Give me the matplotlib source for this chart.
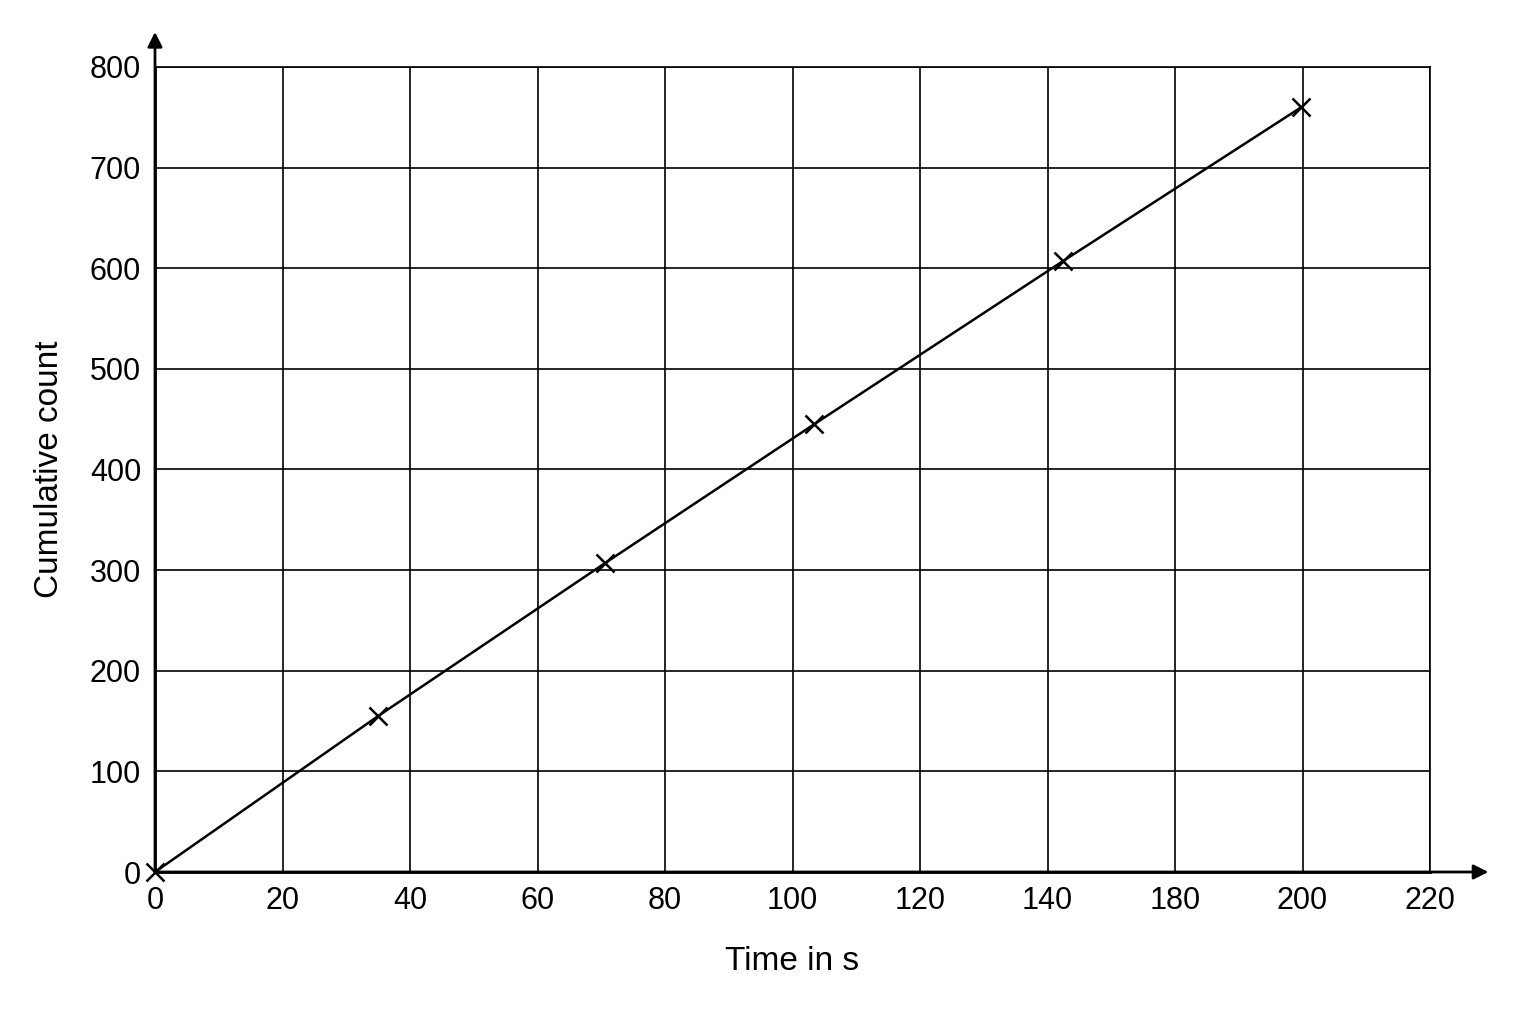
import matplotlib
matplotlib.use("Agg")
import matplotlib.pyplot as plt
import numpy as np

plt.rcParams['font.family'] = ['Liberation Sans Narrow', 'Liberation Sans', 'DejaVu Sans']

# data (x in grid position units; tick labels as printed on the original)
time_s = [0, 35, 70.6, 103.4, 142.4, 179.8]
counts = [0, 155, 307, 445, 607, 760]
x_tick_pos = [0, 20, 40, 60, 80, 100, 120, 140, 160, 180, 200]
x_tick_labels = ['0', '20', '40', '60', '80', '100', '120', '140', '180', '200', '220']
y_ticks = [0, 100, 200, 300, 400, 500, 600, 700, 800]

fig = plt.figure(figsize=(15.36, 10.24), dpi=100)
ax = fig.add_axes([155/1536, 1-872/1024, (1430-155)/1536, (872-67)/1024])
ax.set_xlim(0, 200)
ax.set_ylim(0, 800)
ax.set_xticks(x_tick_pos)
ax.set_xticklabels(x_tick_labels)
ax.set_yticks(y_ticks)
ax.grid(True, color='black', linewidth=1.2)
for s in ax.spines.values():
    s.set_color('black'); s.set_linewidth(1.2)
ax.spines['left'].set_linewidth(2)
ax.spines['bottom'].set_linewidth(2)
ax.tick_params(length=0, labelsize=22, pad=10)

ax.plot(time_s, counts, color='black', linewidth=1.8, clip_on=False)
ax.plot(time_s, counts, linestyle='none', marker='x', markersize=13,
        markeredgewidth=1.8, color='black', clip_on=False)

ax.annotate('', xy=(1.048, 0), xytext=(0, 0), xycoords='axes fraction',
            arrowprops=dict(arrowstyle='-|>', color='black', lw=2, mutation_scale=22))
ax.annotate('', xy=(0, 1.047), xytext=(0, 0), xycoords='axes fraction',
            arrowprops=dict(arrowstyle='-|>', color='black', lw=2, mutation_scale=22))

ax.set_xlabel('Time in s', fontsize=24, labelpad=22)
ax.set_ylabel('Cumulative count', fontsize=24, labelpad=18)

fig.savefig('out.png', dpi=100, facecolor='white')
